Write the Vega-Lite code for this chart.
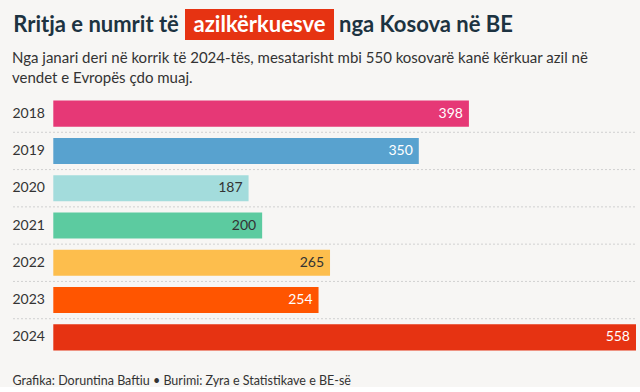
{
  "$schema": "https://vega.github.io/schema/vega-lite/v6.json",
  "background": "#f7f6f4",
  "padding": {"left": 12, "top": 9, "right": 4, "bottom": 0},
  "config": {"view": {"stroke": null}, "font": "Lato"},
  "spacing": 11,
  "vconcat": [
    {
      "spacing": 5,
      "hconcat": [
        {
          "width": 168, "height": 31,
          "data": {"values": [{"t": "Rritja e numrit të"}]},
          "mark": {"type": "text", "font": "Lato", "fontWeight": "bold", "fontSize": 22, "color": "#1d3341"},
          "encoding": {"text": {"field": "t"}}
        },
        {
          "width": 149, "height": 31,
          "view": {"fill": "#e63312", "stroke": null},
          "data": {"values": [{"t": "azilkërkuesve"}]},
          "mark": {"type": "text", "font": "Lato", "fontWeight": "bold", "fontSize": 22, "color": "#ffffff"},
          "encoding": {"text": {"field": "t"}}
        },
        {
          "width": 170, "height": 31,
          "data": {"values": [{"t": "nga Kosova në BE"}]},
          "mark": {"type": "text", "font": "Lato", "fontWeight": "bold", "fontSize": 22, "color": "#1d3341"},
          "encoding": {"text": {"field": "t"}}
        }
      ]
    },
    {
      "width": 624,
      "height": 261,
      "title": {
        "text": ["Nga janari deri në korrik të 2024-tës, mesatarisht mbi 550 kosovarë kanë kërkuar azil në", "vendet e Evropës çdo muaj."],
        "anchor": "start", "frame": "bounds", "font": "Lato", "fontSize": 15, "fontWeight": "normal",
        "color": "#333333", "lineHeight": 20, "offset": 9
      },
      "data": {"values": [
        {"year": "2018", "value": 398},
        {"year": "2019", "value": 350},
        {"year": "2020", "value": 187},
        {"year": "2021", "value": 200},
        {"year": "2022", "value": 265},
        {"year": "2023", "value": 254},
        {"year": "2024", "value": 558}
      ]},
      "encoding": {
        "y": {
          "field": "year", "type": "nominal",
          "scale": {"paddingInner": 0.3, "paddingOuter": 0.15},
          "axis": {"title": null, "ticks": false, "domain": false, "grid": false, "labelFontSize": 14, "labelColor": "#333333", "labelPadding": 0, "labelAlign": "left", "labelFont": "Lato"}
        }
      },
      "layer": [
        {
          "transform": [{"filter": "datum.year != '2024'"}],
          "mark": {"type": "rule", "strokeDash": [2, 2], "color": "#d0d0d0", "strokeWidth": 1},
          "encoding": {
            "y": {"field": "year", "type": "nominal", "bandPosition": 1.2145},
            "x": {"datum": -38.6, "type": "quantitative"},
            "x2": {"datum": 558}
          }
        },
        {
          "mark": {"type": "bar"},
          "encoding": {
            "x": {
              "field": "value", "type": "quantitative",
              "scale": {"domain": [-39.55, 558], "nice": false, "zero": false},
              "axis": {"title": "Grafika: Doruntina Baftiu • Burimi: Zyra e Statistikave e BE-së", "labels": false, "ticks": false, "domain": false, "grid": false, "titleAnchor": "start", "titleX": 0, "titleY": 28, "titleBaseline": "alphabetic", "titleFont": "Lato", "titleFontSize": 12.5, "titleFontWeight": "normal", "titleColor": "#333333"}
            },
            "color": {
              "field": "year", "type": "nominal", "legend": null,
              "scale": {"domain": ["2018", "2019", "2020", "2021", "2022", "2023", "2024"], "range": ["#e63876", "#58a2cf", "#a3dcdc", "#5ccba0", "#fdbe4d", "#ff5500", "#e63312"]}
            }
          }
        },
        {
          "mark": {"type": "text", "align": "right", "dx": -6, "font": "Lato", "fontSize": 14},
          "encoding": {
            "x": {"field": "value", "type": "quantitative"},
            "text": {"field": "value", "type": "quantitative"},
            "color": {
              "condition": {"test": "indexof(['2020','2021','2022'], datum.year) >= 0", "value": "#333333"},
              "value": "#ffffff"
            }
          }
        }
      ]
    }
  ]
}
